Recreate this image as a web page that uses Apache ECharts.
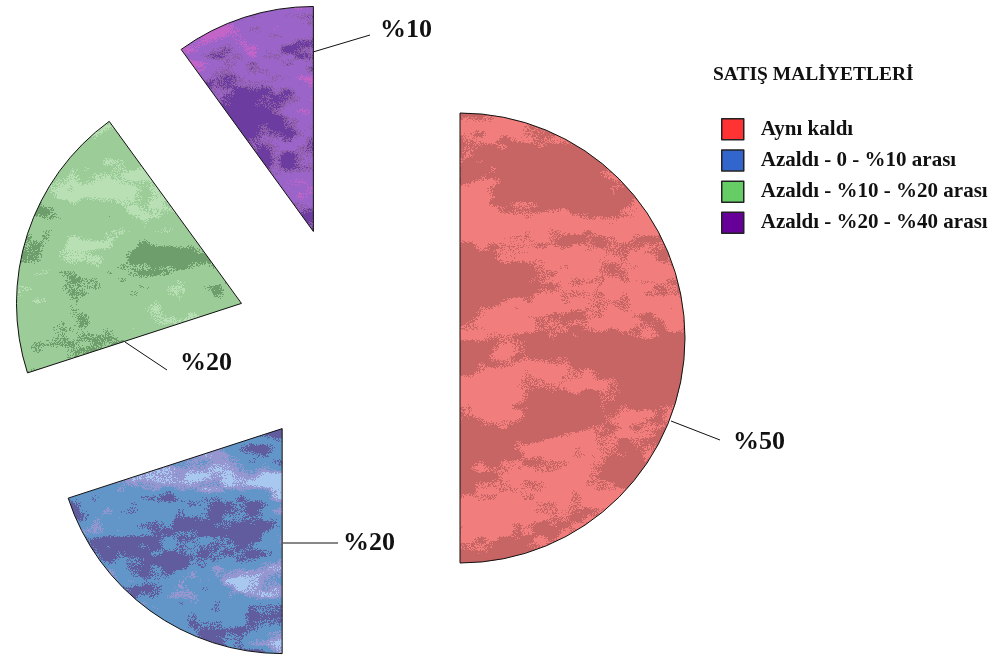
<!DOCTYPE html>
<html>
<head>
<meta charset="utf-8">
<script src="https://cdn.jsdelivr.net/npm/echarts@6/dist/echarts.min.js"></script>
<style>html,body{margin:0;padding:0;background:#fff}#c{width:1000px;height:661px}</style>
</head>
<body>
<div id="c"></div>
<script>
// ---- data ----
const categories = ['Aynı kaldı', 'Azaldı - 0 - %10 arası', 'Azaldı - %10 - %20 arası', 'Azaldı - %20 - %40 arası'];
const values = [50, 20, 20, 10];
const chartTitle = 'SATIŞ MALİYETLERİ';

// ---- styles / layout ----
const legendColors = ['#ff3333', '#3366cc', '#66cc66', '#660099'];
const pieCenter = [348, 338];
const pieRadius = 225;
const explode = 112;
// texture palettes: [upper threshold, rgb] from dark to light
const palettes = [
  [[0.65, [199, 101, 101]], [2, [241, 125, 125]]],
  [[0.22, [96, 92, 158]], [0.56, [99, 150, 200]], [0.74, [150, 150, 208]], [2, [168, 200, 240]]],
  [[0.30, [110, 158, 108]], [0.80, [156, 204, 152]], [2, [185, 223, 181]]],
  [[0.30, [108, 60, 160]], [0.40, [140, 92, 165]], [0.72, [154, 100, 200]], [2, [195, 100, 200]]]
];
// label anchor and leader line points (layout only)
const labelLayoutPts = [
  { x: 733, y: 442, line: [[671, 421], [720, 440], [720, 440]] },
  { x: 343, y: 543, line: [[283, 543], [338, 543], [338, 543]] },
  { x: 180, y: 363, line: [[125, 342], [167, 370], [167, 370]] },
  { x: 380, y: 30,  line: [[313, 52], [370, 35], [370, 35]] }
];

// deterministic hash-based cloud texture
function hash(x, y, s) {
  let h = Math.imul(x, 374761393) + Math.imul(y, 668265263) + Math.imul(s, 1442695041);
  h = Math.imul(h ^ (h >>> 13), 1274126177);
  h = h ^ (h >>> 16);
  return (h >>> 0) / 4294967295;
}
function vnoise(x, y, s) {
  const xi = Math.floor(x), yi = Math.floor(y);
  const xf = x - xi, yf = y - yi;
  const u = xf * xf * (3 - 2 * xf), v = yf * yf * (3 - 2 * yf);
  const a = hash(xi, yi, s), b = hash(xi + 1, yi, s), c = hash(xi, yi + 1, s), d = hash(xi + 1, yi + 1, s);
  return a + (b - a) * u + (c - a) * v + (a - b - c + d) * u * v;
}
function makeTexture(pal, seed) {
  const W = 1000, H = 661;
  const cv = document.createElement('canvas');
  cv.width = W; cv.height = H;
  const ctx = cv.getContext('2d');
  const img = ctx.createImageData(W, H);
  const d = img.data;
  for (let y = 0; y < H; y++) {
    for (let x = 0; x < W; x++) {
      let n = vnoise(x / 80, y / 32, seed) * 0.5 + vnoise(x / 36, y / 16, seed + 7) * 0.3 + vnoise(x / 12, y / 7, seed + 13) * 0.2;
      n = (n - 0.5) * 1.7 + 0.5;
      n += (hash(x, y, seed + 99) - 0.5) * 0.18;
      let col = pal[pal.length - 1][1];
      for (let k = 0; k < pal.length; k++) { if (n < pal[k][0]) { col = pal[k][1]; break; } }
      const i = (y * W + x) * 4;
      d[i] = col[0]; d[i + 1] = col[1]; d[i + 2] = col[2]; d[i + 3] = 255;
    }
  }
  ctx.putImageData(img, 0, 0);
  return cv;
}
const textures = palettes.map((p, i) => makeTexture(p, 11 + i * 31));

// mid angle of each slice (clockwise from 12 o'clock) -> exploded centers
const total = values.reduce((a, b) => a + b, 0);
let acc = 0;
const centers = values.map(v => {
  const mid = (acc + v / 2) / total * 2 * Math.PI;
  acc += v;
  return [pieCenter[0] + explode * Math.sin(mid), pieCenter[1] - explode * Math.cos(mid)];
});

const serif = '"Liberation Serif", "Times New Roman", serif';
const chart = echarts.init(document.getElementById('c'), null, { renderer: 'canvas' });

const series = categories.map((own, si) => ({
  type: 'pie',
  name: own,
  center: centers[si],
  radius: [0, pieRadius],
  startAngle: 90,
  clockwise: true,
  avoidLabelOverlap: false,
  silent: true,
  emphasis: { disabled: true },
  data: categories.map((c, i) => ({
    name: c,
    value: values[i],
    itemStyle: i === si
      ? { color: { image: textures[i], repeat: 'no-repeat' }, borderColor: '#111', borderWidth: 1 }
      : { color: 'rgba(0,0,0,0)', borderWidth: 0 },
    label: { show: i === si },
    labelLine: { show: i === si }
  })),
  label: {
    position: 'outside',
    formatter: p => '%' + p.value,
    fontFamily: serif, fontWeight: 'bold', fontSize: 26, color: '#111'
  },
  labelLine: { lineStyle: { color: '#111', width: 1 } },
  labelLayout: function (params) {
    if (params.dataIndex !== si) return {};
    const L = labelLayoutPts[si];
    return { x: L.x, y: L.y, align: 'left', verticalAlign: 'middle', labelLinePoints: L.line };
  }
}));

chart.setOption({
  backgroundColor: '#ffffff',
  animation: false,
  title: {
    text: chartTitle,
    left: 713, top: 65, padding: 0,
    textStyle: { fontFamily: serif, fontWeight: 'bold', fontSize: 19.5, color: '#111' }
  },
  legend: {
    orient: 'vertical',
    left: 721, top: 118, padding: 0,
    itemWidth: 22, itemHeight: 21, itemGap: 8.7,
    selectedMode: false,
    data: categories.map((c, i) => ({
      name: c,
      icon: 'rect',
      itemStyle: { color: legendColors[i], borderColor: '#222', borderWidth: 1.5 }
    })),
    textStyle: { fontFamily: serif, fontWeight: 'bold', fontSize: 21, lineHeight: 21, color: '#111', padding: [0, 0, 0, 12] }
  },
  series: series
});
</script>
</body>
</html>
